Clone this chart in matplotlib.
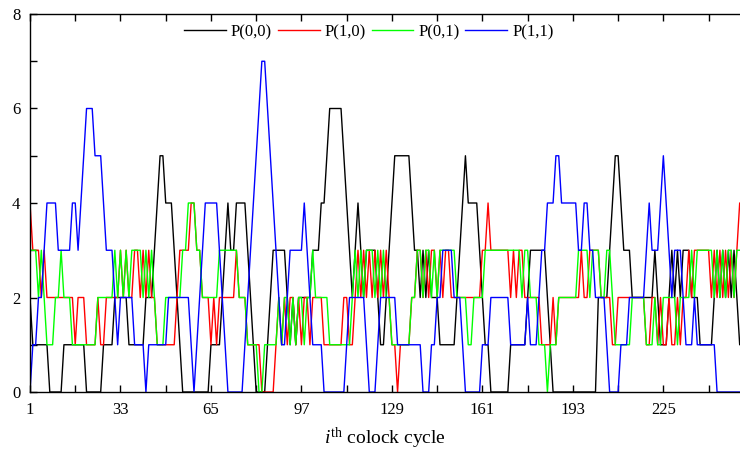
import numpy as np
import matplotlib
matplotlib.use('Agg')
import matplotlib.pyplot as plt
from matplotlib.ticker import MultipleLocator, FixedLocator

plt.rcParams['font.family'] = ['Liberation Serif', 'DejaVu Serif']
plt.rcParams['mathtext.fontset'] = 'custom'
plt.rcParams['mathtext.rm'] = 'Liberation Serif'
plt.rcParams['mathtext.it'] = 'Liberation Serif:italic'

# clock cycle index
cycles = np.arange(1, 257)

p00 = [2,1,1,1,1,1,1,0,0,0, 0,0,1,1,1,1,1,1,1,1, 0,0,0,0,0,0,1,1,1,1,
       2,2,2,2,2,1,1,1,1,1, 1,2,2,2,3,4,5,5,4,4, 4,3,2,1,0,0,0,0,0,0,
       0,0,0,0,1,1,1,1,2,3, 4,3,3,4,4,4,4,3,2,1, 0,0,0,0,1,2,3,3,3,3,
       3,2,1,2,1,2,2,2,2,2, 3,3,3,4,4,5,6,6,6,6, 6,5,4,3,2,3,4,3,2,3,
       3,3,3,2,1,1,2,3,4,5, 5,5,5,5,5,4,3,3,2,3, 2,3,2,2,2,1,1,1,1,1,
       1,2,3,4,5,4,4,4,4,3, 2,1,1,0,0,0,0,0,0,0, 1,1,1,1,1,1,2,3,3,3,
       3,3,3,2,1,0,0,0,0,0, 0,0,0,0,0,0,0,0,0,0, 0,2,2,2,2,3,4,5,5,4,
       3,3,3,2,2,2,2,2,2,2, 2,3,2,1,1,1,2,3,2,3, 2,3,3,3,2,2,2,1,1,1,
       1,1,2,3,2,3,2,3,2,3, 2,1,1,1,1,1]

p10 = [4,3,3,3,2,3,2,2,2,2, 2,2,2,2,2,2,1,2,2,2, 1,1,1,1,2,1,1,2,2,2,
       2,2,3,2,3,2,2,3,3,2, 3,2,3,2,2,1,1,1,1,1, 1,1,2,3,3,3,3,4,4,3,
       3,2,2,2,1,2,1,2,2,2, 2,2,2,3,2,2,2,1,1,1, 1,1,0,0,0,0,0,1,2,1,
       2,1,2,2,1,2,1,2,2,1, 2,2,2,2,1,1,1,1,1,1, 1,2,2,1,1,2,3,2,3,2,
       3,2,3,2,3,2,3,2,1,1, 0,1,1,1,1,2,2,3,3,2, 3,2,3,3,2,3,2,3,3,2,
       2,2,2,2,2,2,2,2,2,2, 3,3,4,3,3,3,3,3,3,3, 2,3,2,3,3,2,2,2,2,2,
       2,1,1,1,1,2,1,2,2,2, 2,2,2,2,2,3,2,2,3,3, 3,3,2,2,2,2,1,1,2,2,
       2,2,2,2,2,2,2,2,1,1, 2,2,1,2,1,1,2,1,1,2, 1,2,2,3,2,3,3,3,3,3,
       3,2,3,2,3,2,3,2,3,2, 3,4,4,4,4,4]

p01 = [3,3,3,2,3,2,1,1,1,2, 2,3,2,2,2,1,1,1,1,1, 1,1,1,1,2,2,2,2,2,2,
       3,2,3,2,3,2,3,3,3,3, 2,3,2,3,2,1,1,1,2,2, 2,2,2,2,3,3,4,4,4,3,
       3,2,2,2,2,2,2,3,3,3, 3,3,3,3,2,2,2,1,1,1, 1,0,0,1,1,1,1,1,2,1,
       2,2,1,2,1,2,2,1,2,2, 3,2,2,2,2,2,1,1,1,1, 1,1,1,1,2,3,2,3,2,3,
       3,3,2,3,2,3,2,2,1,1, 1,1,1,1,1,2,2,3,3,2, 3,3,2,3,2,3,3,3,3,3,
       3,2,2,2,2,1,1,2,2,2, 2,3,3,3,3,3,3,3,3,3, 3,3,3,3,2,3,3,2,2,2,
       1,1,1,0,1,1,1,2,2,2, 2,2,2,2,3,3,3,3,2,3, 3,3,2,2,3,3,2,1,1,1,
       1,1,1,2,2,2,2,2,1,1, 1,2,1,1,2,2,2,2,2,1, 2,2,2,2,3,2,3,3,3,3,
       3,3,2,3,2,3,2,3,3,2, 3,3,3,3,3,3]

p11 = [0,1,1,2,2,3,4,4,4,4, 3,3,3,3,3,4,4,3,4,5, 6,6,6,5,5,5,4,3,3,3,
       2,1,2,2,2,2,2,1,1,1, 1,0,1,1,1,1,1,1,1,2, 2,2,2,2,2,2,2,1,0,1,
       2,3,4,4,4,4,4,3,2,1, 0,0,0,0,0,0,1,2,3,4, 5,6,7,7,6,5,4,3,2,1,
       1,2,3,3,3,3,3,4,3,2, 1,1,1,1,0,0,0,0,0,0, 0,0,1,2,2,2,2,2,2,1,
       0,0,0,1,2,2,2,2,2,2, 1,1,1,1,1,1,1,1,1,0, 0,0,1,1,2,2,3,3,3,3,
       2,2,2,1,0,0,0,0,0,0, 1,1,1,2,2,2,2,2,2,2, 1,1,1,1,1,1,2,1,1,1,
       2,3,3,4,4,4,5,5,4,4, 4,4,4,4,3,3,4,4,3,3, 2,2,2,2,1,0,0,0,0,1,
       1,1,2,2,2,2,2,2,3,4, 3,3,3,4,5,4,3,2,3,3, 3,2,1,1,1,2,1,1,1,1,
       1,1,1,0,0,0,0,0,0,0, 0,0,0,0,0,0]

series = [('P(0,0)', p00, 'black'), ('P(1,0)', p10, '#ff0000'),
          ('P(0,1)', p01, '#00ff00'), ('P(1,1)', p11, '#0000ff')]

fig = plt.figure(figsize=(7.4, 4.53), dpi=100)
ax = fig.add_axes([30/740, 61/453, 721/740, 378/453])

for name, vals, col in series:
    ax.plot(cycles, vals, color=col, lw=1.0, label=name)

ax.set_xlim(1, 256)
ax.set_ylim(0, 8)
ax.xaxis.set_major_locator(FixedLocator(np.arange(1, 257, 32)))
ax.xaxis.set_minor_locator(FixedLocator(np.arange(17, 257, 32)))
ax.yaxis.set_major_locator(MultipleLocator(2))
ax.yaxis.set_minor_locator(MultipleLocator(1))
ax.tick_params(which='both', direction='in', top=True, right=True,
               length=5, width=1, labelsize=12)
ax.tick_params(axis='x', pad=7)
ax.tick_params(axis='y', pad=7)
for s in ax.spines.values():
    s.set_linewidth(1.0)

fig.text(385/740, 0.033, r'$i^{\mathrm{th}}$ colock cycle', ha='center',
         va='center', fontsize=14)

ax.legend(loc='center', bbox_to_anchor=(0.47, 0.952), ncol=4, frameon=False,
          fontsize=12, handlelength=2.5, handletextpad=0.3, columnspacing=0.35,
          borderaxespad=0)

fig.savefig('out.png', dpi=100)
